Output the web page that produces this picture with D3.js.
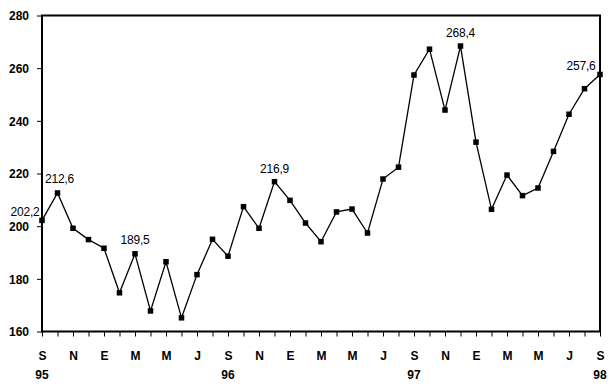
<!DOCTYPE html>
<html><head><meta charset="utf-8">
<script src="https://cdnjs.cloudflare.com/ajax/libs/d3/7.8.5/d3.min.js"></script>
<style>
html,body{margin:0;padding:0;background:#fff;}
svg{display:block;}
text{font-family:"Liberation Sans",Arial,sans-serif;}
</style></head><body>
<svg id="c" width="616" height="389"></svg>
<script>
const months = ["S","O","N","D","E","F","M","A","M","J","J","A","S","O","N","D","E","F","M","A","M","J","J","A","S","O","N","D","E","F","M","A","M","J","J","A","S"];
const values = [202.2,212.6,199.2,194.9,191.6,174.7,189.5,167.8,186.5,165.2,181.6,195.0,188.6,207.4,199.2,216.9,209.8,201.2,194.1,205.4,206.5,197.4,217.9,222.4,257.4,267.2,244.1,268.4,231.9,206.4,219.4,211.6,214.5,228.4,242.5,252.2,257.6];
const yTicks = [160,180,200,220,240,260,280];
const yearLabels = [{i:0,t:"95"},{i:12,t:"96"},{i:24,t:"97"},{i:36,t:"98"}];
const annotated = [{i:0,t:"202,2",dx:-17,dy:-4},{i:1,t:"212,6",dx:2,dy:-10},{i:6,t:"189,5",dx:0,dy:-10},{i:15,t:"216,9",dx:0,dy:-9},{i:27,t:"268,4",dx:0,dy:-9},{i:36,t:"257,6",dx:-19,dy:-4}];

const svg = d3.select("#c");
const L=42,R=600,T=15.5,B=331.5;
const x = d3.scaleLinear().domain([0,months.length-1]).range([L,R]);
const y = d3.scaleLinear().domain([160,280]).range([B,T]);

// y axis
const ya = svg.append("g").attr("transform",`translate(${L},0)`)
  .call(d3.axisLeft(y).tickValues(yTicks).tickSize(5).tickPadding(8).tickFormat(d3.format("d")));
ya.select(".domain").remove();
ya.selectAll("line").attr("stroke","#000");
ya.selectAll("text").attr("font-size",12).attr("font-weight","bold").attr("fill","#000").attr("dy","0.36em");

// x axis
const xa = svg.append("g").attr("transform",`translate(0,${B})`)
  .call(d3.axisBottom(x).tickValues(d3.range(months.length)).tickSize(5).tickFormat((d,i)=> i%2===0?months[i]:""));
xa.select(".domain").remove();
xa.selectAll("line").attr("stroke","#000");
xa.selectAll("text").attr("font-size",12).attr("font-weight","bold").attr("fill","#000").attr("dy",null).attr("y",28);

svg.append("g").selectAll("text").data(yearLabels).join("text")
  .attr("x",d=>x(d.i)).attr("y",B+47).attr("text-anchor","middle")
  .attr("font-size",12).attr("font-weight","bold").text(d=>d.t);

// frame
svg.append("rect").attr("x",L).attr("y",T).attr("width",R-L).attr("height",B-T)
  .attr("fill","none").attr("stroke","#000").attr("stroke-width",2);

// line
const line = d3.line().x((d,i)=>x(i)).y(d=>y(d));
svg.append("path").datum(values).attr("d",line).attr("fill","none").attr("stroke","#000").attr("stroke-width",1.3);

// markers
svg.append("g").selectAll("rect").data(values).join("rect")
  .attr("x",(d,i)=>x(i)-2.75).attr("y",d=>y(d)-2.75).attr("width",5.5).attr("height",5.5).attr("fill","#000");

// annotations
svg.append("g").selectAll("text").data(annotated).join("text")
  .attr("x",d=>x(d.i)+d.dx).attr("y",d=>y(values[d.i])+d.dy)
  .attr("text-anchor","middle").attr("font-size",12).attr("letter-spacing","-0.2").text(d=>d.t);
</script></body></html>
